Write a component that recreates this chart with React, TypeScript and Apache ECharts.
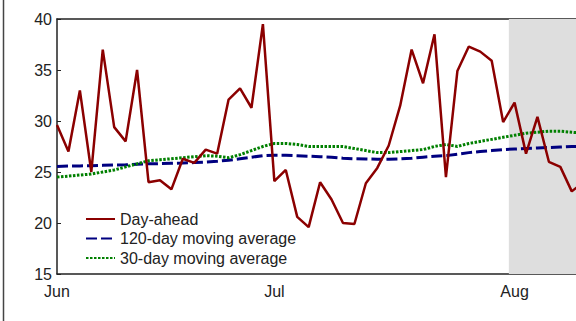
import React, { useEffect, useRef } from "react";
import * as echarts from "echarts";

const monthLabels = ["Jun", "Jul", "Aug"];
const monthStartIdx = [0, 19, 40];

const yTicks = [15, 20, 25, 30, 35, 40];

const dayAhead = [
  29.6, 27.0, 33.0, 25.0, 37.0, 29.4, 28.0, 35.0, 24.0, 24.2,
  23.3, 26.3, 25.9, 27.2, 26.8, 32.1, 33.2, 31.3, 39.5, 24.1,
  25.2, 20.6, 19.6, 24.0, 22.3, 20.0, 19.9, 23.9, 25.4, 27.6,
  31.5, 37.0, 33.7, 38.5, 24.5, 34.9, 37.3, 36.8, 35.9, 29.9,
  31.8, 26.8, 30.4, 26.0, 25.5, 23.1, 24.0,
];

const ma120 = [
  25.55, 25.58, 25.6, 25.62, 25.65, 25.68, 25.7, 25.75, 25.8, 25.82,
  25.85, 25.88, 25.92, 25.97, 26.05, 26.15, 26.3, 26.45, 26.6, 26.65,
  26.65, 26.6, 26.55, 26.5, 26.45, 26.35, 26.3, 26.28, 26.25, 26.25,
  26.28, 26.35, 26.45, 26.55, 26.6, 26.75, 26.9, 27.0, 27.1, 27.2,
  27.25, 27.3, 27.35, 27.4, 27.45, 27.5, 27.5,
];

const ma30 = [
  24.5, 24.6, 24.7, 24.8, 25.0, 25.2, 25.5, 25.8, 26.1, 26.2,
  26.3, 26.4, 26.5, 26.6, 26.55, 26.4, 26.7, 27.1, 27.5, 27.8,
  27.8, 27.7, 27.5, 27.5, 27.5, 27.5, 27.3, 27.1, 26.9, 26.9,
  27.0, 27.1, 27.2, 27.5, 27.7, 27.5, 27.8, 28.0, 28.2, 28.4,
  28.6, 28.8, 28.9, 29.0, 29.0, 28.9, 28.8,
];

const shadeStart = 39.5;
const xMax = 45.37;

const seriesNames = ["Day-ahead", "120-day moving average", "30-day moving average"];

const FONT = "'Liberation Sans', Arial, Helvetica, sans-serif";

export default function App() {
  const ref = useRef<HTMLDivElement>(null);

  useEffect(() => {
    if (!ref.current) return;
    const chart = echarts.init(ref.current, null, { renderer: "svg" });
    const toPairs = (arr: number[]) => arr.map((v, i) => [i, v]);
    chart.setOption({
      animation: false,
      textStyle: { fontFamily: FONT },
      grid: {
        left: 57,
        top: 19,
        height: 255,
        right: 0,
        show: false,
      },
      xAxis: [
        {
          type: "value",
          min: 0,
          max: xMax,
          position: "bottom",
          splitLine: { show: false },
          axisLine: { show: true, onZero: false, lineStyle: { color: "#222", width: 1.5 } },
          axisTick: { show: false },
          axisLabel: {
            customValues: monthStartIdx,
            formatter: (v: number) => {
              const k = monthStartIdx.indexOf(Math.round(v));
              return k >= 0 ? monthLabels[k] : "";
            },
            fontSize: 16,
            color: "#222",
            margin: 9,
            fontFamily: FONT,
          },
        },
        {
          type: "value",
          min: 0,
          max: xMax,
          position: "top",
          splitLine: { show: false },
          axisLine: { show: true, onZero: false, lineStyle: { color: "#222", width: 1.5 } },
          axisTick: { show: false },
          axisLabel: { show: false },
        },
      ],
      yAxis: {
        type: "value",
        min: yTicks[0],
        max: yTicks[yTicks.length - 1],
        interval: 5,
        splitLine: { show: false },
        axisLine: { show: true, onZero: false, lineStyle: { color: "#222", width: 1.5 } },
        axisTick: { show: true, inside: true, length: 4, lineStyle: { color: "#222", width: 1 } },
        axisLabel: { fontSize: 16, color: "#222", margin: 5, fontFamily: FONT },
      },
      legend: {
        orient: "vertical",
        left: 80,
        top: 206,
        itemWidth: 29,
        itemHeight: 14,
        itemGap: 3.5,
        itemStyle: { opacity: 0 },
        textStyle: { fontSize: 16, color: "#222", lineHeight: 16, fontFamily: FONT },
        data: seriesNames,
      },
      graphic: [
        {
          type: "line",
          shape: { x1: 3.5, y1: 0, x2: 3.5, y2: 321 },
          style: { stroke: "#444", lineWidth: 1.5 },
        },
      ],
      series: [
        {
          name: seriesNames[0],
          type: "line",
          data: toPairs(dayAhead),
          symbol: "none",
          lineStyle: { color: "#8b0000", width: 2.5 },
          itemStyle: { color: "#8b0000" },
          z: 4,
          markArea: {
            silent: true,
            itemStyle: { color: "#dedede" },
            data: [[{ xAxis: shadeStart }, { xAxis: xMax }]],
          },
        },
        {
          name: seriesNames[1],
          type: "line",
          data: toPairs(ma120),
          symbol: "none",
          lineStyle: { color: "#000080", width: 3, type: [11, 4] },
          itemStyle: { color: "#000080" },
          z: 3,
        },
        {
          name: seriesNames[2],
          type: "line",
          data: toPairs(ma30),
          symbol: "none",
          lineStyle: { color: "#008000", width: 3, type: [2.5, 1.5] },
          itemStyle: { color: "#008000" },
          z: 3,
        },
      ],
    });
    return () => chart.dispose();
  }, []);

  return (
    <div
      ref={ref}
      style={{ position: "fixed", left: 0, top: 0, width: 576, height: 321, background: "#fff" }}
    />
  );
}
